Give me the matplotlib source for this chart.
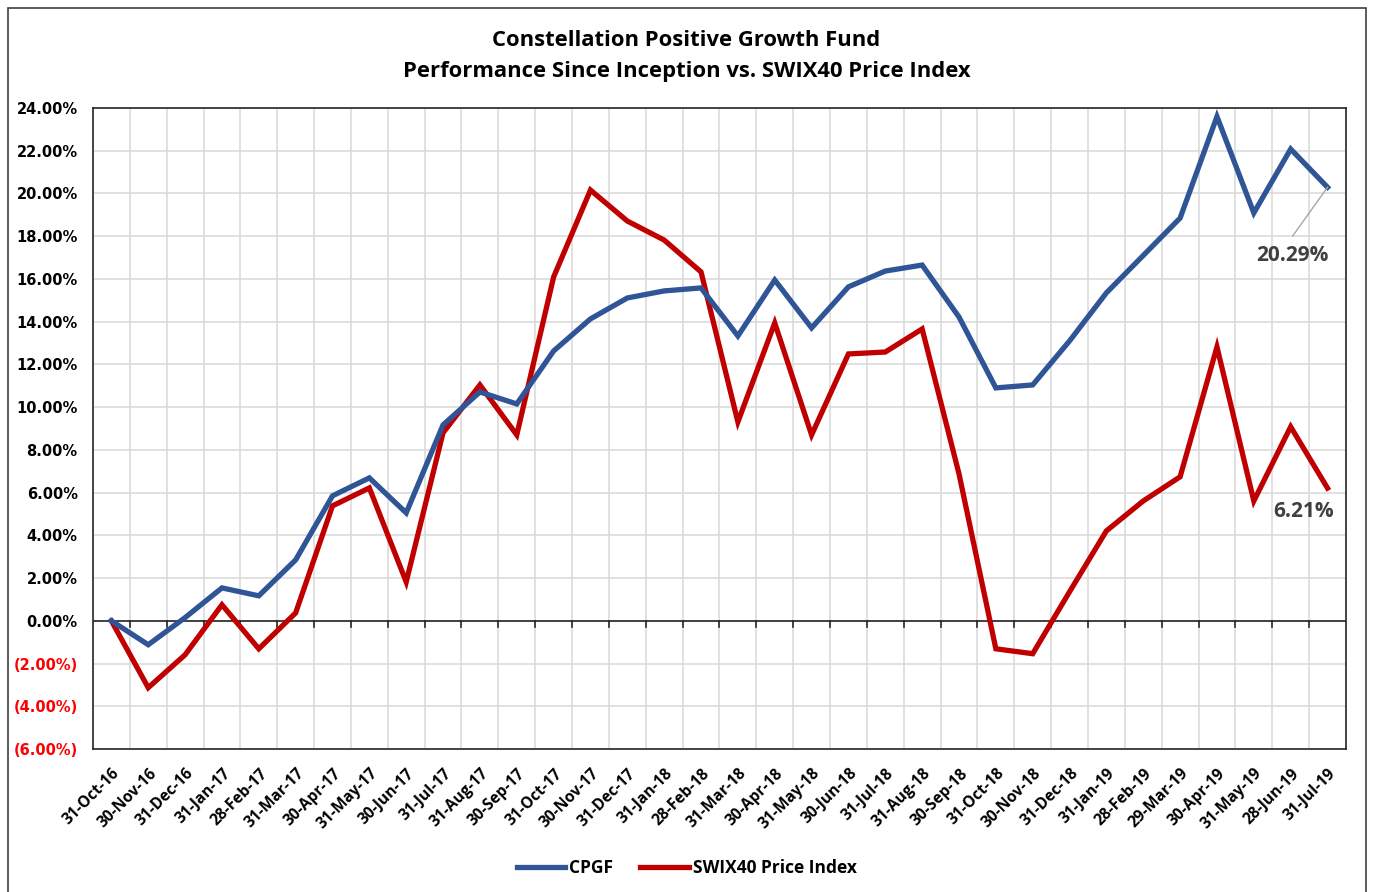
import matplotlib.pyplot as plt
from matplotlib.patches import Rectangle
from matplotlib.lines import Line2D
from matplotlib.transforms import ScaledTranslation

dates = ["31-Oct-16", "30-Nov-16", "31-Dec-16", "31-Jan-17", "28-Feb-17", "31-Mar-17",
         "30-Apr-17", "31-May-17", "30-Jun-17", "31-Jul-17", "31-Aug-17", "30-Sep-17",
         "31-Oct-17", "30-Nov-17", "31-Dec-17", "31-Jan-18", "28-Feb-18", "31-Mar-18",
         "30-Apr-18", "31-May-18", "30-Jun-18", "31-Jul-18", "31-Aug-18", "30-Sep-18",
         "31-Oct-18", "30-Nov-18", "31-Dec-18", "31-Jan-19", "28-Feb-19", "29-Mar-19",
         "30-Apr-19", "31-May-19", "28-Jun-19", "31-Jul-19"]

cpgf = [0.0, -1.12, 0.15, 1.54, 1.17, 2.85, 5.85, 6.69, 5.05, 9.17, 10.71, 10.15,
        12.63, 14.13, 15.11, 15.44, 15.58, 13.33, 15.95, 13.71, 15.63, 16.37, 16.65,
        14.22, 10.9, 11.04, 13.1, 15.35, 17.1, 18.85, 23.6, 19.09, 22.08, 20.29]

swix = [0.0, -3.13, -1.59, 0.75, -1.31, 0.37, 5.38, 6.22, 1.82, 8.8, 11.04, 8.7,
        16.09, 20.16, 18.71, 17.82, 16.33, 9.31, 13.94, 8.7, 12.49, 12.58, 13.66,
        6.88, -1.31, -1.54, 1.36, 4.21, 5.61, 6.74, 12.82, 5.61, 9.08, 6.21]

y_ticks = list(range(-6, 25, 2))

BLUE = "#2F5597"
RED = "#C00000"
GRID = "#D9D9D9"
LABEL_FONT = ["Open Sans", "DejaVu Sans"]

fig = plt.figure(figsize=(13.73, 8.92), dpi=100)
ax = fig.add_axes([0.0677, 0.1603, 0.9126, 0.7186])

# outer chart border
fig.patches.append(Rectangle((8 / 1373, -0.05), (1366 - 8) / 1373, 1.05 - 8 / 892,
                             transform=fig.transFigure, fill=False,
                             edgecolor="#404040", linewidth=1.2))

x = list(range(len(dates)))
ax.plot(x, cpgf, color=BLUE, lw=3.8, solid_joinstyle="miter", label="CPGF", zorder=4)
ax.plot(x, swix, color=RED, lw=3.8, solid_joinstyle="miter",
        label="SWIX40 Price Index", zorder=3)

ax.set_xlim(-0.5, len(dates) - 0.5)
ax.set_ylim(-6, 24)

# grid
for b in range(len(dates) + 1):
    ax.axvline(b - 0.5, color=GRID, lw=1.1, zorder=0)
for t in y_ticks:
    ax.axhline(t, color=GRID, lw=1.1, zorder=0)

# zero axis with category tick marks
ax.axhline(0, color="#262626", lw=1.2, zorder=2)
for b in range(1, len(dates)):
    ax.plot([b - 0.5, b - 0.5], [0, -0.28], color="#262626", lw=1.2, zorder=2)

for s in ax.spines.values():
    s.set_color("#262626")
    s.set_linewidth(1.2)

ax.set_yticks(y_ticks)
ylabels = [f"{t:.2f}%" if t >= 0 else f"({abs(t):.2f}%)" for t in y_ticks]
ax.set_yticklabels(ylabels, fontsize=10.5, fontweight="bold", family="DejaVu Sans")
for lbl, t in zip(ax.get_yticklabels(), y_ticks):
    lbl.set_color("#FF0000" if t < 0 else "black")
ax.tick_params(axis="y", length=0, pad=11)

ax.set_xticks(x)
ax.set_xticklabels(dates, rotation=45, ha="right", va="center",
                   rotation_mode="anchor", fontsize=11.2, fontweight="bold",
                   family=LABEL_FONT)
ax.tick_params(axis="x", length=0, pad=16)
shift = ScaledTranslation(6 / 100, 0, fig.dpi_scale_trans)
for lbl in ax.get_xticklabels():
    lbl.set_transform(lbl.get_transform() + shift)

# end-point labels
ax.plot([x[-1], x[-1] - 0.95], [cpgf[-1], 18.0], color="#A6A6A6", lw=1, zorder=5)
ax.text(x[-1] - 0.95, 17.1, f"{cpgf[-1]:.2f}%", ha="center", va="center",
        fontsize=15, fontweight="bold", color="#404040", family=LABEL_FONT)
ax.text(x[-1] - 0.65, 5.1, f"{swix[-1]:.2f}%", ha="center", va="center",
        fontsize=15, fontweight="bold", color="#404040", family=LABEL_FONT)

fig.text(0.5, 1 - 40 / 892, "Constellation Positive Growth Fund", ha="center",
         va="center", fontsize=15.8, fontweight="bold", family=LABEL_FONT)
fig.text(0.5, 1 - 71 / 892, "Performance Since Inception vs. SWIX40 Price Index",
         ha="center", va="center", fontsize=15.8, fontweight="bold", family=LABEL_FONT)

handles = [Line2D([], [], color=BLUE, lw=3.8), Line2D([], [], color=RED, lw=3.8)]
fig.legend(handles, ["CPGF", "SWIX40 Price Index"], loc="center",
           bbox_to_anchor=(0.5, 1 - 868 / 892), ncol=2, frameon=False,
           handlelength=2.8, handletextpad=0.2, columnspacing=1.6,
           prop={"family": LABEL_FONT, "weight": "bold", "size": 12.5})

fig.savefig("out.png", dpi=100)
